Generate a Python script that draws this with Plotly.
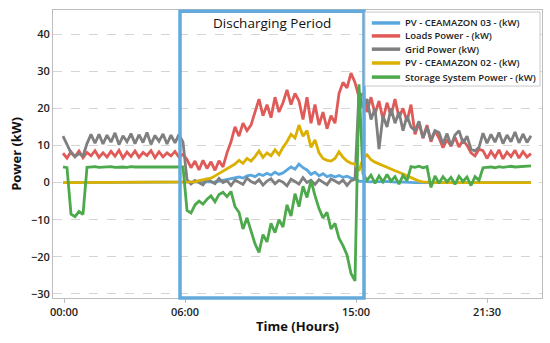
import plotly.graph_objects as go

# sample index (one sample every ~4 px of the original time axis)
n_samples = 118
samples = list(range(n_samples))

tick_pos = [0.25, 30.5, 73.25, 106]
tick_labels = ["00:00", "06:00", "15:00", "21:30"]

loads = ([7.9, 6.6, 8.3, 7.0, 8.5, 6.7, 8.1, 7.2, 8.6, 6.8, 8.0, 6.9, 8.4, 7.1, 8.7, 6.6, 8.2, 7.0, 8.5, 6.8,
          8.1, 7.3, 8.6, 6.7, 8.3, 6.9, 8.0, 7.2, 8.4, 6.8, 7.6]
         + [6.2, 4.0, 5.8, 3.4, 6.0, 3.8, 5.6, 3.3, 5.9, 4.2]
         + [8, 11, 15, 12.5, 16, 14, 15.5, 19, 22.5, 18, 21, 17.5, 23, 19, 21.5, 25, 21, 24, 22, 17, 23, 16,
            21, 15.5, 19, 14.5, 18, 16, 24, 27, 25.5, 29.5, 27]
         + [23, 24, 19, 23, 18.5, 22, 17, 21.5, 18, 22.5, 17.5, 20, 16.5, 21, 13, 16, 12, 15.5, 11, 14]
         + [12, 9.4, 11.6, 9.8, 12.2, 9.6, 11.4, 10]
         + [8, 7.2, 9]
         + [8.6, 6.5, 8.4, 6.8, 8.8, 6.4, 8.2, 7.0, 8.7, 6.6, 8.3, 6.9, 7.8])

grid = ([12.5, 10.0, 8.0, 7.0, 7.8, 7.2, 10.5, 13.0]
        + [10.6, 13.0, 10.4, 12.8, 10.9, 13.4, 10.2, 12.6, 11.0, 13.2, 10.5, 12.9, 10.8, 13.5, 10.3, 12.7,
           11.1, 13.1, 10.4, 12.8, 10.7, 13.0, 10.9]
        + [0.8, -0.4, 0.6, 0.1, -0.6, 0.9, 0.2, -0.3, 1.1, 0.0, 0.5, -0.8, 0.7, 0.2, -0.5, 1.2, 0.3, -0.2,
           0.8, -0.7, 0.4, 1.0, -0.3, 0.6, 0.1, -0.9, 0.9, 0.3, -0.4, 1.3, 0.0, 0.6, -0.5, 0.8, 0.2, -0.6,
           1.0, 0.4, -0.2, 0.7, -0.8, 0.5, 0.9]
        + [24.5, 20, 22.5, 17, 20, 9, 18, 15, 20, 16, 19, 14, 18, 15]
        + [14, 16.5, 12, 15, 11.5, 14]
        + [13.5, 10.4, 13.2, 10.0, 12.8, 14, 10.6, 12.5]
        + [9, 8.5, 9.5]
        + [13.3, 10.6, 13.0, 10.9, 13.5, 10.5, 12.8, 11.0, 13.6, 10.7, 13.1, 10.8, 12.6])

storage = ([4.2, 4.0]
           + [-8.5, -9.2, -7.8, -8.6]
           + [4.1, 4.2, 4.3, 4.1, 4.2, 4.2, 4.3, 4.1, 4.2, 4.2, 4.1, 4.3, 4.2, 4.2, 4.1, 4.2, 4.3, 4.2, 4.1,
              4.2, 4.2, 4.3, 4.1, 4.2, 4.2]
           + [-7.5, -8.2, -6.0, -5.0, -5.8, -4.5, -3.6, -5.2, -3.2, -2.6, -3.8, -2.4, -6.5, -8.0, -12.5,
              -9.5, -13.0, -16.5, -18.8, -14.0, -16.0, -11.0, -13.5, -10.0, -12.0, -6.0, -9.0, -3.0, -6.5,
              -1.0, -4.0, 0.5, -3.5, -7.0, -9.5, -8.0, -12.5, -11.0, -15.0, -17.0, -19.5, -24.5, -26.5]
           + [26.5]
           + [2.4, 0.6, 2.0, -0.2, 1.8, 0.2, 2.2, 0.4, 1.6, -0.4, 1.9, 0.5]
           + [4.3, 4.1, 4.4, 4.0, 4.3]
           + [-1.3]
           + [1.8, -0.2, 1.6, 0.2, 1.4, -0.5, 1.7, 0.3, 1.5, -0.8, 1.6, 0.6]
           + [4.0, 4.1, 4.2, 4.0, 4.3, 4.1, 4.2, 4.4, 4.2, 4.3, 4.4, 4.3, 4.5])

pv02 = ([0.0] * 33
        + [0.2, 0.5, 0.8, 1.0, 1.2, 1.8, 2.4, 3.0, 3.8, 4.2, 5.0, 6.0, 5.2, 6.5, 5.8, 7.0, 8.5, 6.8, 8.0, 7.2,
           8.8, 7.5, 9.5, 11, 13, 12, 15.5, 12.5, 14, 9.5, 11.5, 8, 6.5, 6, 5.8, 6.5, 8.3, 6.8, 5.8, 5.2,
           5.0, 3.2, 6.5, 7.5, 6.2, 5.5, 5.0, 4.5, 4.0, 3.6, 3.2, 2.8, 2.3, 1.8, 1.2, 0.8, 0.4]
        + [0.2, 0.1] + [0.0] * 26)

pv03 = ([0.0] * 38
        + [0.2, 0.4, 0.6, 0.8, 1.0, 1.2]
        + [1.5, 1.2, 1.8, 2.0, 1.6, 2.3, 1.9, 2.5, 2.0, 2.8, 2.2, 2.6]
        + [3.5, 4.2, 3.6, 5.0, 4.0, 3.4]
        + [2.2, 2.8, 1.8, 2.4, 1.6, 2.0, 1.5, 1.9, 1.4, 1.7, 1.2, 1.0]
        + [0.4, 0.3, 0.3, 0.2, 0.3, 0.2, 0.2, 0.3, 0.2, 0.1, 0.2, 0.1, 0.1, 0.1, 0.0, 0.0]
        + [0.0] * 28)

series_names = ["PV - CEAMAZON 03 - (kW)", "Loads Power - (kW)", "Grid Power (kW)",
                "PV - CEAMAZON 02 - (kW)", "Storage System Power - (kW)"]
series_values = [pv03, loads, grid, pv02, storage]
series_colors = ["#5aa7e0", "#e05a58", "#7f7f7f", "#dcb000", "#4caa4c"]

discharge_start, discharge_end = 29.25, 75.25

fig = go.Figure()
for name, vals, col in zip(series_names, series_values, series_colors):
    fig.add_trace(go.Scatter(x=samples, y=vals, mode="lines", name=name,
                             line=dict(color=col, width=2.8)))

fig.add_shape(type="rect", xref="x", yref="paper", x0=discharge_start, x1=discharge_end,
              y0=0, y1=0.996, line=dict(color="#64aadd", width=3.5), fillcolor="rgba(0,0,0,0)")
fig.add_annotation(x=(discharge_start + discharge_end) / 2, y=43.0, xref="x", yref="y",
                   text="Discharging Period", showarrow=False,
                   font=dict(family="Open Sans", size=13.5, color="#111"))

# legend box (drawn in paper coordinates, above the traces)
fig.add_shape(type="rect", xref="paper", yref="paper", x0=0.638, x1=0.996, y0=0.736, y1=0.993,
              line=dict(color="#c8c8c8", width=1), fillcolor="white", layer="above")
row_y = [0.955, 0.910, 0.864, 0.816, 0.767]
for name, col, yy in zip(series_names, series_colors, row_y):
    fig.add_shape(type="line", xref="paper", yref="paper", x0=0.652, x1=0.710, y0=yy, y1=yy,
                  line=dict(color=col, width=3.5), layer="above")
    fig.add_annotation(xref="paper", yref="paper", x=0.717, y=yy, xanchor="left", yanchor="middle",
                       text=name, showarrow=False, borderpad=0,
                       font=dict(family="Open Sans", size=9.5, color="#222", weight=600))

fig.update_layout(
    width=550, height=343,
    margin=dict(l=53, r=8, t=10, b=45),
    paper_bgcolor="white", plot_bgcolor="white",
    font=dict(family="Open Sans", color="#222"),
    showlegend=False,
)
fig.update_xaxes(range=[-2.5, 119.75], tickvals=tick_pos, ticktext=tick_labels,
                 showgrid=False, zeroline=False, showline=True, linecolor="#bdbdbd", mirror=True,
                 ticks="outside", ticklen=4, tickcolor="#bdbdbd",
                 tickfont=dict(size=11, color="#222", weight=600),
                 title=dict(text="Time (Hours)", font=dict(size=13, color="#111", weight="bold"), standoff=3))
fig.update_yaxes(range=[-31.1, 46.5], tickvals=[-30, -20, -10, 0, 10, 20, 30, 40],
                 showgrid=True, gridcolor="#d4d4d4", griddash="dash", gridwidth=1,
                 zeroline=False, showline=True, linecolor="#bdbdbd", mirror=True,
                 ticks="", tickfont=dict(size=11, color="#222", weight=600),
                 title=dict(text="Power (kW)", font=dict(size=13, color="#111", weight="bold"), standoff=6))

fig.write_html("out.html", config={"displayModeBar": False},
               post_script="document.body.style.margin='0px';")
